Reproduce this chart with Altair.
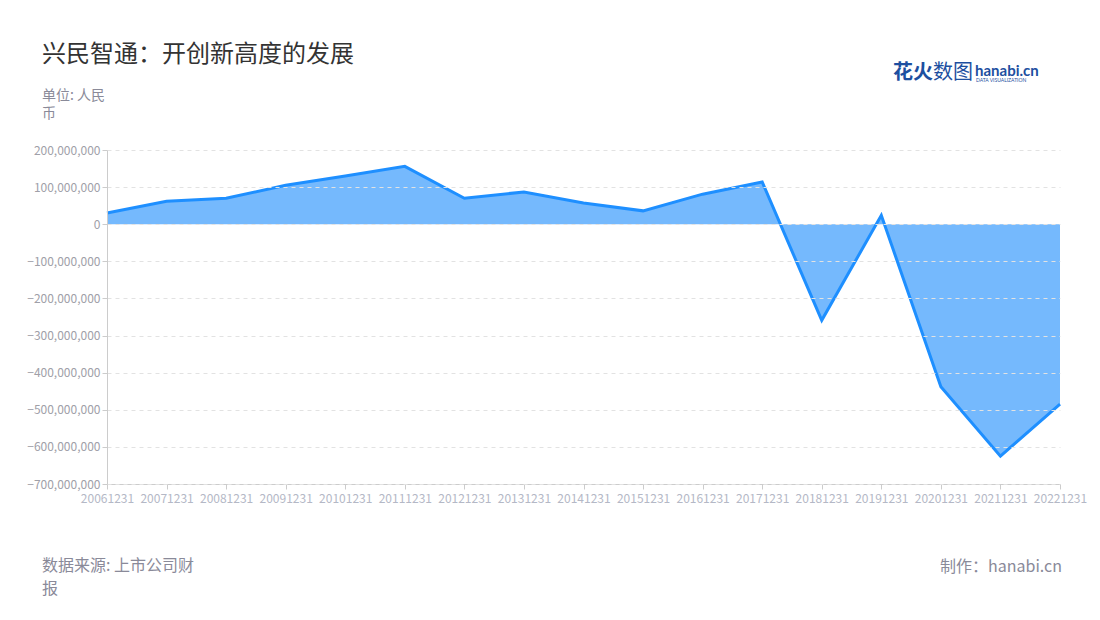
import altair as alt
import pandas as pd

dates = ["20061231", "20071231", "20081231", "20091231", "20101231", "20111231",
         "20121231", "20131231", "20141231", "20151231", "20161231", "20171231",
         "20181231", "20191231", "20201231", "20211231", "20221231"]
values = [30e6, 62e6, 70e6, 105e6, 130e6, 156e6, 70e6, 87e6, 57e6, 36e6, 81e6,
          114e6, -259e6, 24e6, -438e6, -625e6, -485e6]
y_ticks = [200000000, 100000000, 0, -100000000, -200000000, -300000000,
           -400000000, -500000000, -600000000, -700000000]

FONT = "Noto Sans CJK SC"
W, H = 953, 334
df = pd.DataFrame({"date": dates, "value": values})

x_enc = alt.X("date:O", sort=dates,
              scale=alt.Scale(type="point", padding=0),
              axis=alt.Axis(title=None, labelAngle=0, labelColor="#b4b8c6", labelFontSize=12,
                            labelFont=FONT, domainColor="#cccccc", tickColor="#cccccc",
                            tickSize=5, labelPadding=4, grid=False, labelOverlap=False))
y_enc = alt.Y("value:Q", scale=alt.Scale(domain=[-700000000, 200000000], nice=False),
              axis=alt.Axis(title=None, values=y_ticks, format=",d", labelColor="#a0a0a8",
                            labelFontSize=12, labelFont=FONT, domainColor="#cccccc",
                            tickColor="#cccccc", tickSize=5, gridColor="#e2e2e2",
                            gridDash=[4, 4], labelPadding=2, labelOverlap=False,
                            labelBound=False, zindex=1))

base = alt.Chart(df).encode(x=x_enc, y=y_enc)
area = base.mark_area(color="#75b9fd", opacity=1)
line = base.mark_line(color="#1e8fff", strokeWidth=3)

def txt(s, x, y, size, color, align="left", weight="normal", font=FONT):
    return alt.Chart(pd.DataFrame({"t": [s]})).mark_text(
        text=s, align=align, baseline="middle", fontSize=size, color=color,
        fontWeight=weight, font=font
    ).encode(x=alt.value(x - 107), y=alt.value(y - 150))

texts = [
    txt("兴民智通：开创新高度的发展", 42, 55, 24, "#333333"),
    txt("单位: 人民", 42, 96, 14, "#8a8a99"),
    txt("币", 42, 114, 14, "#8a8a99"),
    txt("数据来源: 上市公司财", 42, 566, 16, "#8a8a99"),
    txt("报", 42, 589, 16, "#8a8a99"),
    txt("制作：hanabi.cn", 1062, 567, 16, "#8a8a99", align="right"),
    txt("花火", 893, 73, 20, "#1d4fa0", weight="bold"),
    txt("数图", 933, 73, 20, "#1d4fa0"),
    txt("hanabi.cn", 975, 71, 15, "#1d4fa0", weight="bold", font="Lato"),
    txt("DATA VISUALIZATION", 976, 80, 5, "#1d4fa0", font="Lato"),
]

chart = alt.layer(area, line, *texts).properties(
    width=W, height=H,
    background="white",
    autosize=alt.AutoSizeParams(type="none"),
    padding={"left": 99, "top": 142, "right": 30, "bottom": 120},
).configure_view(stroke="transparent", strokeWidth=0).configure_axis(labelOverlap=False)

chart.save("out.html", embed_options={"renderer": "svg", "actions": False})
